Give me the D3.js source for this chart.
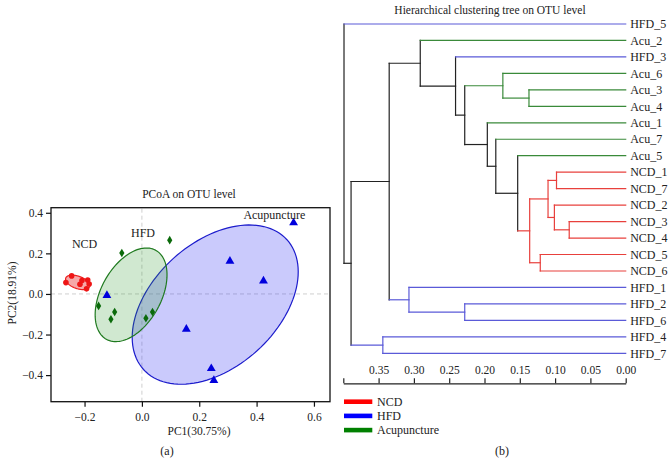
<!DOCTYPE html>
<html>
<head>
<meta charset="utf-8">
<script src="https://cdn.jsdelivr.net/npm/d3@7"></script>
<style>
  html, body { margin: 0; padding: 0; background: #fff; }
  svg { display: block; }
  text { font-family: "Liberation Serif", "DejaVu Serif", serif; fill: #222; }
</style>
</head>
<body>
<svg id="chart" width="671" height="473"></svg>
<script>
// ---------------- DATA ----------------
// PCoA points (PC1, PC2)
const ncdPoints = [[-0.265, 0.056], [-0.245, 0.089], [-0.189, 0.069], [-0.184, 0.049], [-0.193, 0.025], [-0.216, 0.048], [-0.209, 0.066]];
const hfdPoints = [[-0.070, 0.202], [0.097, 0.265], [-0.151, -0.059], [-0.095, -0.089], [-0.108, -0.125], [0.014, -0.120], [0.037, -0.089]];
const acuPoints = [[0.529, 0.353], [0.307, 0.164], [0.424, 0.067], [-0.122, -0.005], [0.155, -0.171], [0.242, -0.365], [0.251, -0.424]];
// confidence ellipses: centre and two conjugate semi-axis vectors (data units)
const ncdEllipse = { cx: -0.224, cy: 0.057, ax: 0.0419, ay: -0.0197, bx: -0.0052, by: -0.0296 };
const hfdEllipse = { cx: -0.0377, cy: -0.0042, ax: 0.0851, ay: 0.220, bx: 0.092, by: -0.0694 };
const acuEllipse = { cx: 0.2557, cy: -0.0525, ax: 0.2501, ay: 0.3197, bx: 0.1458, by: -0.2276 };
const groupLabels = ["NCD", "HFD", "Acupuncture"];
const groupLabelPos = [[-0.200, 0.245], [0.004, 0.303], [0.462, 0.391]];
const pcoaXTicks = [-0.2, 0.0, 0.2, 0.4, 0.6];
const pcoaYTicks = [-0.4, -0.2, 0.0, 0.2, 0.4];

// Dendrogram
const leafOrder = ["HFD_5", "Acu_2", "HFD_3", "Acu_6", "Acu_3", "Acu_4", "Acu_1", "Acu_7", "Acu_5",
  "NCD_1", "NCD_7", "NCD_2", "NCD_3", "NCD_4", "NCD_5", "NCD_6",
  "HFD_1", "HFD_2", "HFD_6", "HFD_4", "HFD_7"];
// linkage: [id, childA, childB, height]
const merges = [
  ["m1", "NCD_3", "NCD_4", 0.080],
  ["m2", "NCD_1", "NCD_7", 0.098],
  ["m3", "NCD_2", "m1", 0.101],
  ["m4", "m2", "m3", 0.110],
  ["m5", "NCD_5", "NCD_6", 0.121],
  ["m6", "m4", "m5", 0.136],
  ["m7", "Acu_3", "Acu_4", 0.137],
  ["m8", "Acu_5", "m6", 0.153],
  ["m9", "Acu_6", "m7", 0.174],
  ["m10", "Acu_7", "m8", 0.184],
  ["m11", "Acu_1", "m10", 0.196],
  ["m12", "HFD_2", "HFD_6", 0.228],
  ["m13", "m9", "m11", 0.228],
  ["m14", "HFD_3", "m13", 0.241],
  ["m15", "Acu_2", "m14", 0.291],
  ["m16", "HFD_1", "m12", 0.307],
  ["m17", "m15", "m16", 0.335],
  ["m18", "HFD_4", "HFD_7", 0.344],
  ["m19", "m17", "m18", 0.389],
  ["m20", "HFD_5", "m19", 0.399]
];
const treeTicks = [0.40, 0.35, 0.30, 0.25, 0.20, 0.15, 0.10, 0.05, 0.00];
const treeTickLabels = ["", "0.35", "0.30", "0.25", "0.20", "0.15", "0.10", "0.05", "0.00"];
const legendNames = ["NCD", "HFD", "Acupuncture"];

// ---------------- DRAW ----------------
const svg = d3.select("#chart");

// ===== Panel (a): PCoA =====
const px = d3.scaleLinear().domain([-0.317, 0.656]).range([51, 330]);
const py = d3.scaleLinear().domain([-0.531, 0.425]).range([401.7, 207.7]);
const gA = svg.append("g");

// dashed zero lines
gA.append("line").attr("x1", px(0)).attr("x2", px(0)).attr("y1", py.range()[0]).attr("y2", py.range()[1])
  .attr("stroke", "#cfcfcf").attr("stroke-width", 1).attr("stroke-dasharray", "4,3");
gA.append("line").attr("x1", px.range()[0]).attr("x2", px.range()[1]).attr("y1", py(0)).attr("y2", py(0))
  .attr("stroke", "#cfcfcf").attr("stroke-width", 1).attr("stroke-dasharray", "4,3");

function ellipsePath(e) {
  const pts = d3.range(0, 361, 3).map(deg => {
    const t = deg * Math.PI / 180;
    return [px(e.cx + Math.cos(t) * e.ax + Math.sin(t) * e.bx), py(e.cy + Math.cos(t) * e.ay + Math.sin(t) * e.by)];
  });
  return d3.line().curve(d3.curveLinearClosed)(pts);
}
gA.append("path").attr("d", ellipsePath(acuEllipse))
  .attr("fill", "rgba(60,60,245,0.27)").attr("stroke", "#1c1ccc").attr("stroke-width", 1.2);
gA.append("path").attr("d", ellipsePath(hfdEllipse))
  .attr("fill", "rgba(40,150,40,0.22)").attr("stroke", "#1f7a1f").attr("stroke-width", 1.2);
gA.append("path").attr("d", ellipsePath(ncdEllipse))
  .attr("fill", "rgba(240,110,110,0.6)").attr("stroke", "#ee2020").attr("stroke-width", 1.2);

// points
gA.selectAll("circle.ncd").data(ncdPoints).join("circle").attr("class", "ncd")
  .attr("cx", d => px(d[0])).attr("cy", d => py(d[1])).attr("r", 2.8).attr("fill", "#ee1515");
const diamond = "M0,-4.3L2.6,0L0,4.3L-2.6,0Z";
gA.selectAll("path.hfd").data(hfdPoints).join("path").attr("class", "hfd")
  .attr("transform", d => `translate(${px(d[0])},${py(d[1])})`).attr("d", diamond).attr("fill", "#0a6a0a");
const tri = d3.symbol(d3.symbolTriangle, 34)();
gA.selectAll("path.acu").data(acuPoints).join("path").attr("class", "acu")
  .attr("transform", d => `translate(${px(d[0])},${py(d[1]) + 0.5})`).attr("d", tri).attr("fill", "#0000dd");

// group labels
gA.selectAll("text.glab").data(groupLabels).join("text").attr("class", "glab")
  .attr("x", (d, i) => px(groupLabelPos[i][0])).attr("y", (d, i) => py(groupLabelPos[i][1]))
  .attr("text-anchor", "middle").attr("dy", "0.35em").attr("font-size", 12).text(d => d);

// frame
gA.append("rect").attr("x", px.range()[0]).attr("y", py.range()[1])
  .attr("width", px.range()[1] - px.range()[0]).attr("height", py.range()[0] - py.range()[1])
  .attr("fill", "none").attr("stroke", "#111").attr("stroke-width", 1.3);

// axes
const xAx = gA.append("g").attr("transform", `translate(0,${py.range()[0]})`)
  .call(d3.axisBottom(px).tickValues(pcoaXTicks).tickFormat(d3.format(".1f")).tickSize(5).tickSizeOuter(0));
const yAx = gA.append("g").attr("transform", `translate(${px.range()[0]},0)`)
  .call(d3.axisLeft(py).tickValues(pcoaYTicks).tickFormat(d3.format(".1f")).tickSize(5).tickSizeOuter(0));
[xAx, yAx].forEach(a => {
  a.select(".domain").remove();
  a.selectAll(".tick line").attr("stroke", "#111").attr("stroke-width", 1.2);
  a.selectAll(".tick text").attr("font-family", "Liberation Serif, serif").attr("font-size", 11.5).attr("fill", "#222");
});
xAx.selectAll(".tick text").attr("dy", "1.0em");

gA.append("text").attr("x", 189).attr("y", 198).attr("text-anchor", "middle").attr("font-size", 11.5).text("PCoA on OTU level");
gA.append("text").attr("x", 199).attr("y", 435).attr("text-anchor", "middle").attr("font-size", 11.5).text("PC1(30.75%)");
gA.append("text").attr("transform", "translate(16,293) rotate(-90)").attr("text-anchor", "middle").attr("font-size", 11.5).text("PC2(18.91%)");
gA.append("text").attr("x", 167).attr("y", 455).attr("text-anchor", "middle").attr("font-size", 12).text("(a)");

// ===== Panel (b): dendrogram =====
const tx = d3.scaleLinear().domain([0.40, 0.00]).range([343.3, 625.7]);
const ty = d3.scalePoint().domain(leafOrder).range([24, 353.3]);
const groupColor = { NCD: "#e8403c", HFD: "#5a5ad8", Acu: "#3a8a3a" };
const gB = svg.append("g");

// build nodes
const nodes = {};
leafOrder.forEach(n => { nodes[n] = { id: n, h: 0, y: ty(n), group: n.split("_")[0] }; });
merges.forEach(([id, a, b, h]) => {
  const A = nodes[a], B = nodes[b];
  nodes[id] = { id, h, y: (A.y + B.y) / 2, children: [A, B], group: A.group === B.group ? A.group : null };
});
const colorOf = n => n.group ? groupColor[n.group] : "#222";

const segs = [];
merges.forEach(([id]) => {
  const n = nodes[id];
  const [A, B] = n.children;
  segs.push({ x1: tx(n.h), y1: A.y, x2: tx(n.h), y2: B.y, c: colorOf(n) });
  n.children.forEach(ch => segs.push({ x1: tx(n.h), y1: ch.y, x2: tx(ch.h), y2: ch.y, c: colorOf(ch) }));
});
gB.selectAll("line.seg").data(segs).join("line").attr("class", "seg")
  .attr("x1", d => d.x1).attr("y1", d => d.y1).attr("x2", d => d.x2).attr("y2", d => d.y2)
  .attr("stroke", d => d.c).attr("stroke-width", 1.2).attr("stroke-linecap", "square");

gB.selectAll("text.leaf").data(leafOrder).join("text").attr("class", "leaf")
  .attr("x", tx(0) + 4.5).attr("y", d => ty(d)).attr("dy", "0.35em").attr("font-size", 12).text(d => d);

// axis
const axY = 383.3;
const tAx = gB.append("g").attr("transform", `translate(0,${axY})`)
  .call(d3.axisTop(tx).tickValues(treeTicks).tickFormat((d, i) => treeTickLabels[i]).tickSize(5).tickSizeOuter(0).tickPadding(4));
tAx.select(".domain").attr("stroke", "#222").attr("stroke-width", 1.2);
tAx.selectAll(".tick line").attr("stroke", "#222").attr("stroke-width", 1.2);
tAx.selectAll(".tick text").attr("font-family", "Liberation Serif, serif").attr("font-size", 11.5).attr("fill", "#222");

gB.append("text").attr("x", 490).attr("y", 14).attr("text-anchor", "middle").attr("font-size", 11.5)
  .text("Hierarchical clustering tree on OTU level");

// legend
const legendColors = ["#ff0000", "#0000ff", "#008000"];
const lg = gB.selectAll("g.lg").data(legendNames).join("g").attr("class", "lg")
  .attr("transform", (d, i) => `translate(344,${401.7 + i * 14.2})`);
lg.append("rect").attr("x", 0).attr("y", -2.3).attr("width", 28.3).attr("height", 4.6).attr("fill", (d, i) => legendColors[i]);
lg.append("text").attr("x", 33).attr("y", 0).attr("dy", "0.35em").attr("font-size", 12).text(d => d);

gB.append("text").attr("x", 502).attr("y", 455).attr("text-anchor", "middle").attr("font-size", 12).text("(b)");
</script>
</body>
</html>
